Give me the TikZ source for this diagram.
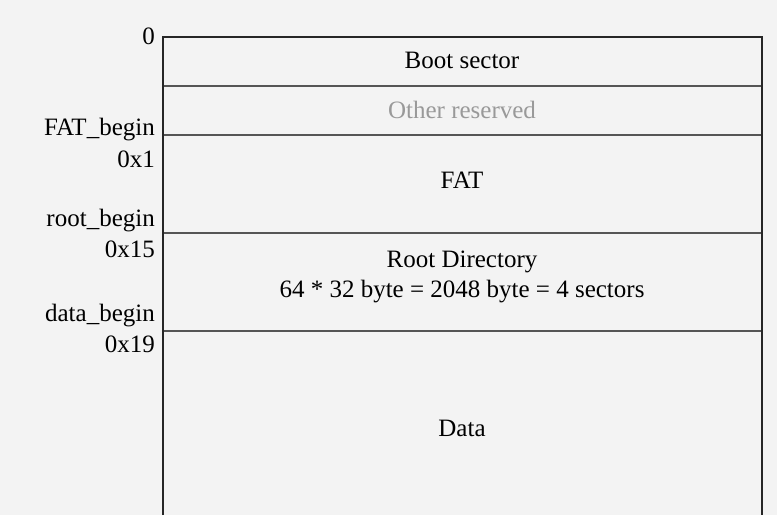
\documentclass[tikz,border=0pt]{standalone}
\usepackage{fontspec}
\setmainfont{Liberation Serif}
\definecolor{bgcol}{HTML}{F3F3F3}
\definecolor{sepcol}{HTML}{555555}
\definecolor{dimcol}{HTML}{999999}

\begin{document}
\begin{tikzpicture}
[x=1pt,y=-1pt,
 addr/.style={anchor=base east,inner sep=0pt,font=\fontsize{25}{30}\selectfont},
 part/.style={anchor=base,inner sep=0pt,font=\fontsize{25}{30}\selectfont},
 sep/.style={draw=sepcol,line width=1.3pt}]
\fill[bgcol] (0,0) rectangle (777,515);
\useasboundingbox (0,0) rectangle (777,515);
\coordinate (bl) at (163,515);
\coordinate (tl) at (163,37);
\coordinate (tr) at (762,37);
\coordinate (br) at (762,515);
\foreach \y in {86,135,233,331}
  \draw[sep] (163,\y) -- (762,\y);
\draw[line width=1.4pt,color=black!85] (bl) -- (tl) -- (tr) -- (br);
\node[part] (boot) at (462,68) {Boot sector};
\node[part,text=dimcol] (resv) at (462,118) {Other reserved};
\node[part] (fat) at (462,188) {FAT};
\node[part] (root) at (462,267) {Root Directory};
\node[part] (rootsz) at (462,297) {64 * 32 byte = 2048 byte = 4 sectors};
\node[part] (data) at (462,436) {Data};
\node[addr] (zero) at (155,44) {0};
\node[addr] (fatb) at (155,135) {FAT\_begin};
\node[addr] (fatx) at (155,167) {0x1};
\node[addr] (rootb) at (155,226) {root\_begin};
\node[addr] (rootx) at (155,257) {0x15};
\node[addr] (datab) at (155,321) {data\_begin};
\node[addr] (datax) at (155,352) {0x19};
\end{tikzpicture}
\end{document}
